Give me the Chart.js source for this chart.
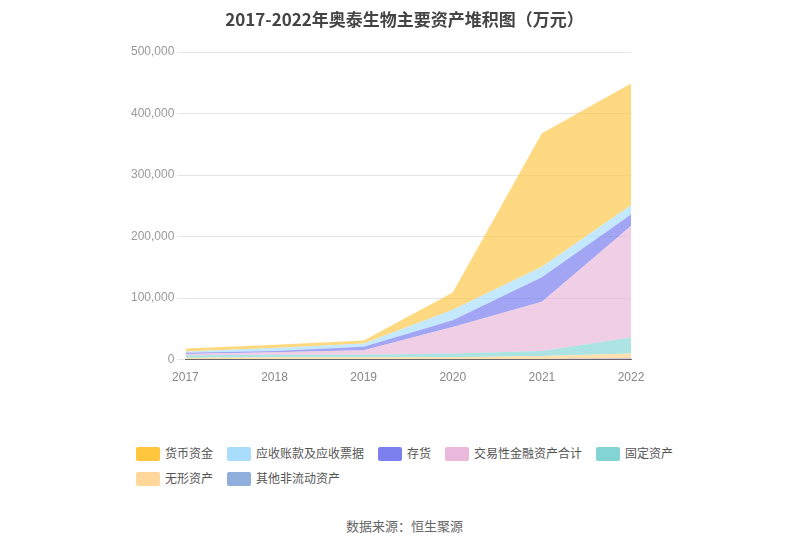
<!DOCTYPE html>
<html><head><meta charset="utf-8">
<script src="https://cdn.jsdelivr.net/npm/chart.js"></script>
<style>body{margin:0;background:#fff;font-family:"Noto Sans CJK SC","Noto Sans",sans-serif}
#w{position:relative;width:809px;height:546px}
canvas{position:absolute;left:0;top:0}
h1{position:absolute;top:6px;left:0;width:809px;text-align:center;margin:0;font-size:17px;color:#444;font-weight:bold}
#src{position:absolute;top:516px;width:809px;text-align:center;font-size:13px;color:#666}
#lg{position:absolute;left:136px;top:444px;width:560px;font-size:12px;color:#555}
#lg span{display:inline-block;margin:0 14px 8px 0;line-height:16px}
#lg i{display:inline-block;width:24px;height:14px;border-radius:2px;vertical-align:-3px;margin-right:5px}
</style></head><body><div id="w">
<canvas id="c" width="809" height="400"></canvas>
<h1>2017-2022年奥泰生物主要资产堆积图（万元）</h1>
<div id="lg"></div>
<div id="src">数据来源：恒生聚源</div></div>
<script>
// 单位：万元
const years = ['2017','2018','2019','2020','2021','2022'];
const cash      = [5000, 5000, 5000, 28000, 217000, 198000];
const recv      = [2000, 5000, 5000, 17000, 17000, 15000];
const stock     = [2000, 2000, 6000, 11000, 40000, 19000];
const finAssets = [2000, 4000, 7000, 43000, 80000, 181000];
const fixed     = [4000, 4000, 4000, 6000, 8000, 26000];
const intangible= [2000, 3000, 3000, 3000, 5000, 8000];
const otherNc   = [1000, 1000, 1000, 1000, 1000, 2000];

// bottom first
const series = [
  ['其他非流动资产', otherNc, '143,112,204', 0.55, '#8faedb'],
  ['无形资产', intangible, '255,215,150', 0.75, '#ffd79a'],
  ['固定资产', fixed, '127,212,212', 0.65, '#83d5d5'],
  ['交易性金融资产合计', finAssets, '232,181,216', 0.65, '#e9b8da'],
  ['存货', stock, '123,127,240', 0.7, '#7b7ff0'],
  ['应收账款及应收票据', recv, '165,220,252', 0.65, '#a8ddfb'],
  ['货币资金', cash, '255,197,61', 0.65, '#ffc53d']
];
document.getElementById('lg').innerHTML = series.slice().reverse()
  .map((s, i) => `<span><i style="background:${s[4]}"></i>${s[0]}</span>` + (i === 4 ? '<br>' : '')).join('');

new Chart(document.getElementById('c'), {
  type: 'line',
  data: {
    labels: years,
    datasets: series.map((s, i) => ({
      label: s[0], data: s[1],
      backgroundColor: `rgba(${s[2]},${s[3]})`,
      borderWidth: 0, pointRadius: 0, tension: 0,
      fill: i === 0 ? 'origin' : '-1'
    }))
  },
  options: {
    responsive: false, animation: false,
    layout: {padding: {left: 128, right: 178, top: 52, bottom: 12}},
    plugins: {legend: {display: false}, tooltip: {enabled: false}},
    scales: {
      x: {stacked: true, offset: false, grid: {display: false}, border: {color: '#666'},
          ticks: {color: '#888', font: {size: 12}}},
      y: {stacked: true, min: 0, max: 500000,
          ticks: {stepSize: 100000, color: '#999', font: {size: 12}, callback: v => v.toLocaleString('en-US')},
          grid: {color: '#e3e5ec'}, border: {display: false}}
    }
  }
});
</script></body></html>
